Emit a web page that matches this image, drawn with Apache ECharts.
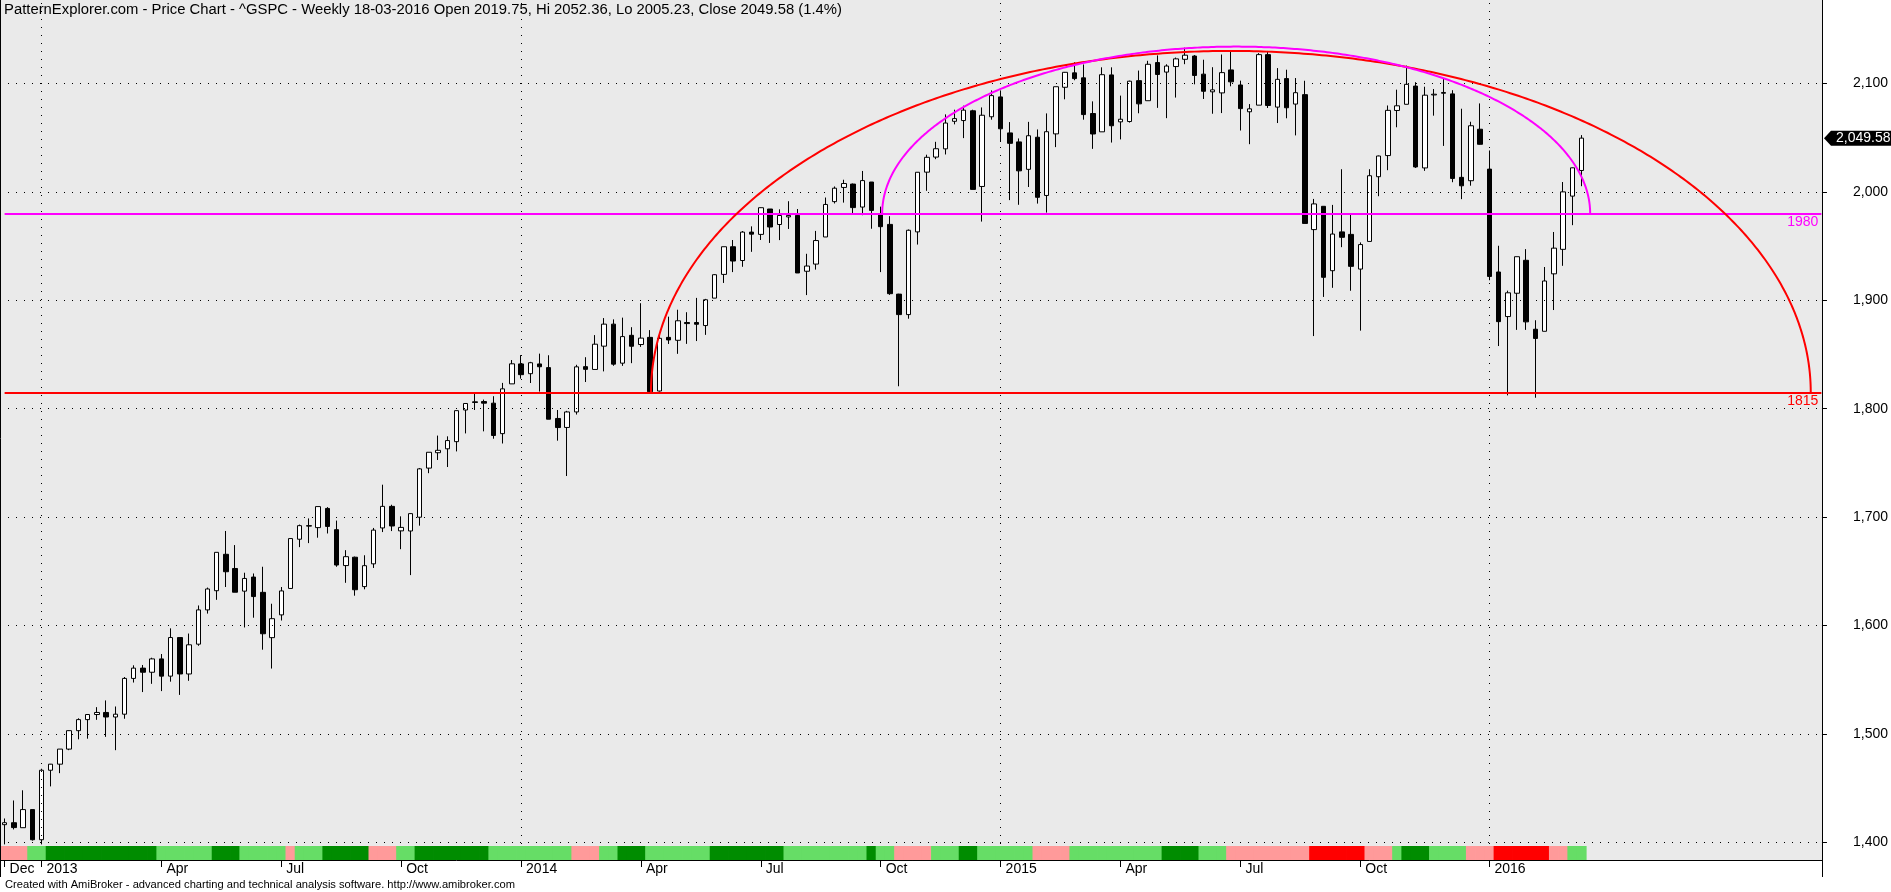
<!DOCTYPE html>
<html><head><meta charset="utf-8">
<script src="https://cdn.jsdelivr.net/npm/echarts@6/dist/echarts.min.js"></script>
<style>html,body{margin:0;padding:0;background:#fff;overflow:hidden}#c{width:1891px;height:892px}</style>
</head><body><div id="c"></div>
<script>
// ---------------- DATA ----------------
const weeks = [
'2012-12-07','2012-12-14','2012-12-21','2012-12-28',
'2013-01-04','2013-01-11','2013-01-18','2013-01-25','2013-02-01','2013-02-08','2013-02-15','2013-02-22','2013-03-01','2013-03-08','2013-03-15','2013-03-22','2013-03-28',
'2013-04-05','2013-04-12','2013-04-19','2013-04-26','2013-05-03','2013-05-10','2013-05-17','2013-05-24','2013-05-31','2013-06-07','2013-06-14','2013-06-21','2013-06-28',
'2013-07-05','2013-07-12','2013-07-19','2013-07-26','2013-08-02','2013-08-09','2013-08-16','2013-08-23','2013-08-30','2013-09-06','2013-09-13','2013-09-20','2013-09-27',
'2013-10-04','2013-10-11','2013-10-18','2013-10-25','2013-11-01','2013-11-08','2013-11-15','2013-11-22','2013-11-29','2013-12-06','2013-12-13','2013-12-20','2013-12-27',
'2014-01-03','2014-01-10','2014-01-17','2014-01-24','2014-01-31','2014-02-07','2014-02-14','2014-02-21','2014-02-28','2014-03-07','2014-03-14','2014-03-21','2014-03-28',
'2014-04-04','2014-04-11','2014-04-17','2014-04-25','2014-05-02','2014-05-09','2014-05-16','2014-05-23','2014-05-30','2014-06-06','2014-06-13','2014-06-20','2014-06-27',
'2014-07-03','2014-07-11','2014-07-18','2014-07-25','2014-08-01','2014-08-08','2014-08-15','2014-08-22','2014-08-29','2014-09-05','2014-09-12','2014-09-19','2014-09-26',
'2014-10-03','2014-10-10','2014-10-17','2014-10-24','2014-10-31','2014-11-07','2014-11-14','2014-11-21','2014-11-28','2014-12-05','2014-12-12','2014-12-19','2014-12-26',
'2015-01-02','2015-01-09','2015-01-16','2015-01-23','2015-01-30','2015-02-06','2015-02-13','2015-02-20','2015-02-27','2015-03-06','2015-03-13','2015-03-20','2015-03-27',
'2015-04-02','2015-04-10','2015-04-17','2015-04-24','2015-05-01','2015-05-08','2015-05-15','2015-05-22','2015-05-29','2015-06-05','2015-06-12','2015-06-19','2015-06-26',
'2015-07-02','2015-07-10','2015-07-17','2015-07-24','2015-07-31','2015-08-07','2015-08-14','2015-08-21','2015-08-28','2015-09-04','2015-09-11','2015-09-18','2015-09-25',
'2015-10-02','2015-10-09','2015-10-16','2015-10-23','2015-10-30','2015-11-06','2015-11-13','2015-11-20','2015-11-27','2015-12-04','2015-12-11','2015-12-18','2015-12-24','2015-12-31',
'2016-01-08','2016-01-15','2016-01-22','2016-01-29','2016-02-05','2016-02-12','2016-02-19','2016-02-26','2016-03-04','2016-03-11','2016-03-18'
];
const open = [
1416.3,1418.1,1413.5,1430.2,
1402.4,1466.5,1472.1,1486.0,1503.0,1513.2,1517.9,1519.8,1515.6,1518.2,1551.2,1560.7,1556.9,
1569.2,1553.3,1588.9,1555.3,1582.8,1614.4,1632.1,1665.7,1652.6,1631.7,1644.7,1630.6,1588.8,
1609.8,1634.2,1679.6,1692.1,1690.3,1708.0,1688.4,1655.3,1663.0,1635.9,1656.9,1690.0,1709.9,
1687.3,1687.2,1699.9,1745.2,1759.4,1763.0,1769.6,1798.8,1806.3,1806.6,1805.1,1777.0,1822.9,
1841.3,1832.3,1841.3,1837.9,1791.0,1782.7,1797.0,1838.8,1836.2,1857.7,1878.0,1842.0,1867.7,
1859.2,1865.8,1816.3,1865.8,1863.1,1879.5,1879.5,1876.7,1902.0,1923.9,1949.4,1936.7,1962.9,
1960.8,1984.2,1969.9,1976.9,1978.3,1926.8,1933.4,1958.4,1991.0,2004.1,2007.2,1986.0,2009.1,
1978.9,1970.0,1905.7,1886.8,1963.1,2018.2,2032.1,2039.7,2065.1,2065.8,2074.8,2005.0,2069.3,
2087.6,2054.4,2046.1,2020.8,2050.4,1996.7,2053.5,2096.5,2109.8,2105.2,2072.3,2055.4,2107.9,
2064.6,2064.9,2102.6,2084.1,2119.3,2110.5,2115.6,2122.3,2125.3,2108.6,2092.3,2091.3,2112.5,
2098.6,2073.9,2080.0,2126.6,2078.2,2104.5,2081.0,2089.7,1965.2,1986.7,1927.3,1963.1,1960.8,
1928.8,1954.3,2014.0,2033.5,2075.1,2080.8,2097.6,2022.1,2089.4,2090.95,2090.4,2013.4,2010.3,2057.8,
2021.0,1926.1,1885.0,1906.5,1936.9,1873.3,1871.4,1924.4,1947.0,1996.1,2019.75
];
const high = [
1422.0,1438.6,1448.0,1430.2,
1467.9,1472.3,1486.0,1503.3,1514.4,1518.3,1524.7,1530.9,1525.3,1552.5,1563.3,1563.6,1570.3,
1573.7,1597.4,1588.9,1592.6,1618.5,1635.0,1667.5,1687.2,1674.2,1648.7,1648.0,1654.2,1620.1,
1635.5,1680.2,1693.1,1698.8,1709.7,1709.2,1696.8,1669.5,1663.6,1664.8,1690.0,1729.9,1711.4,
1700.7,1703.4,1745.3,1759.8,1775.2,1774.5,1798.2,1804.8,1813.6,1808.4,1811.5,1823.8,1844.9,
1849.4,1843.2,1850.8,1849.3,1798.8,1798.0,1840.5,1847.5,1867.9,1883.6,1882.4,1884.0,1875.2,
1897.3,1872.5,1869.6,1884.9,1891.3,1889.0,1902.2,1901.3,1924.0,1949.4,1955.6,1963.9,1968.2,
1985.6,1984.2,1983.9,1991.4,1984.2,1942.9,1964.0,1994.8,2005.0,2011.2,2007.7,2019.3,2009.1,
1986.4,1977.6,1906.0,1965.3,2018.2,2034.3,2046.2,2071.5,2075.8,2079.5,2075.8,2077.9,2093.6,
2093.6,2064.4,2049.3,2064.6,2057.6,2072.4,2097.0,2110.6,2119.6,2117.5,2083.5,2114.9,2114.9,
2088.8,2102.6,2111.9,2120.9,2125.9,2117.7,2123.9,2133.0,2126.2,2121.9,2115.0,2126.7,2129.9,
2102.6,2081.0,2128.0,2130.0,2114.2,2112.7,2105.0,2102.5,1993.5,1986.7,1988.0,2020.9,1979.6,
1953.4,2020.9,2033.5,2079.7,2094.3,2116.5,2101.2,2097.0,2094.9,2104.3,2093.8,2076.7,2064.7,2081.6,
2038.2,1950.3,1908.9,1940.2,1947.2,1881.6,1930.7,1963.0,2009.1,2022.4,2052.36
];
const low = [
1398.1,1411.9,1413.5,1401.6,
1398.1,1451.6,1463.8,1485.0,1495.0,1495.6,1513.0,1497.3,1485.0,1514.0,1547.4,1538.6,1546.2,
1539.5,1548.2,1536.0,1549.0,1581.3,1611.0,1623.7,1635.5,1630.7,1598.2,1607.2,1577.7,1560.3,
1604.6,1634.2,1672.3,1676.0,1681.0,1684.9,1654.2,1639.4,1627.5,1633.4,1653.1,1686.2,1687.1,
1670.4,1646.5,1692.1,1740.5,1752.7,1746.2,1760.6,1777.2,1798.8,1779.1,1772.3,1767.9,1822.9,
1827.7,1823.7,1815.8,1790.3,1770.5,1737.9,1794.6,1824.6,1836.2,1834.4,1839.6,1839.5,1842.0,
1857.0,1814.4,1815.8,1859.7,1850.6,1859.8,1862.4,1868.1,1902.0,1916.0,1926.0,1930.9,1944.7,
1955.6,1952.9,1955.5,1965.8,1925.2,1904.8,1928.3,1958.4,1989.3,1990.1,1980.3,1978.5,1966.0,
1926.0,1905.0,1820.7,1883.0,1951.4,2001.0,2030.2,2034.5,2062.3,2049.6,2002.3,1972.6,2066.6,
2046.0,1992.4,1988.1,2004.5,1989.2,1980.9,2041.3,2085.4,2103.0,2066.6,2039.7,2055.4,2045.5,
2048.4,2063.9,2072.5,2084.1,2077.5,2068.0,2087.0,2117.8,2099.2,2085.7,2072.1,2072.7,2097.4,
2056.6,2044.0,2080.0,2077.4,2063.5,2067.9,2052.1,1970.9,1867.0,1903.1,1911.5,1949.0,1908.8,
1872.0,1954.3,1996.0,2020.0,2059.6,2080.8,2022.1,2019.4,2070.3,2042.4,2008.9,1993.3,2005.7,2043.6,
1918.5,1857.8,1812.3,1872.7,1872.7,1810.1,1871.4,1891.0,1931.8,1969.3,2005.23
];
const close = [
1418.1,1413.6,1430.2,1402.4,
1466.5,1472.1,1486.0,1503.0,1513.2,1517.9,1519.8,1515.6,1518.2,1551.2,1560.7,1556.9,1569.2,
1553.3,1588.9,1555.3,1582.2,1614.4,1633.7,1667.5,1649.6,1630.7,1643.4,1626.7,1592.4,1606.3,
1631.9,1680.2,1692.1,1691.7,1709.7,1691.4,1655.8,1663.5,1633.0,1655.2,1688.0,1709.9,1691.8,
1690.5,1703.2,1744.5,1759.8,1761.6,1770.6,1798.2,1804.8,1805.8,1805.1,1775.3,1818.3,1841.4,
1831.4,1842.4,1838.7,1790.3,1782.6,1797.0,1838.6,1836.3,1859.5,1878.0,1841.1,1866.5,1857.6,
1865.1,1815.7,1864.9,1863.4,1881.1,1878.5,1877.9,1900.5,1923.6,1949.4,1936.2,1962.9,1961.0,
1985.4,1967.6,1978.2,1978.3,1925.2,1931.6,1955.1,1988.4,2003.4,2007.7,1985.5,2010.4,1982.9,
1967.9,1906.1,1886.8,1964.6,2018.1,2031.9,2039.8,2063.5,2067.6,2075.4,2002.3,2070.7,2088.8,
2058.2,2044.8,2019.4,2051.8,1995.0,2055.5,2097.0,2110.3,2104.5,2071.3,2053.4,2108.1,2061.0,
2067.0,2102.1,2081.2,2117.7,2108.3,2116.1,2122.7,2126.1,2107.4,2092.8,2094.1,2110.0,2101.5,
2076.8,2076.6,2126.6,2079.7,2103.8,2077.6,2091.5,1970.9,1988.9,1921.2,1961.1,1958.1,1931.3,
1951.4,2014.9,2033.1,2075.2,2079.4,2099.2,2023.0,2089.2,2090.1,2091.7,2012.4,2005.6,2061.0,2043.9,
1922.0,1880.3,1906.9,1940.2,1880.1,1864.8,1917.8,1948.1,2000.0,2022.2,2049.58
];
// trend ribbon state per week: P = pink, L = light green, D = dark green, R = red
const ribbonCodes = ('PPP'+'LL'+'DDDDDDDDDDDD'+'LLLLLL'+'DDD'+'LLLLL'+'P'+'LLL'+'DDDDD'+'PPP'+'LL'+'DDDDDDDD'+
  'LLLLLLLLL'+'PPP'+'LL'+'DDD'+'LLLLLLL'+'DDDDDDDD'+'LLLLLLLLL'+'D'+'LL'+'PPPP'+'LLL'+'DD'+'LLLLLL'+'PPPP'+
  'LLLLLLLLLL'+'DDDD'+'LLL'+'PPPPPPPPP'+'RRRRRR'+'PPP'+'L'+'DDD'+'LLLL'+'PPP'+'RRRRRR'+'PP'+'LL').split('');
const priceTicks = [1400,1500,1600,1700,1800,1900,2000,2100];
const monthTickIdx = [0,4,17,30,43,56,69,82,95,108,121,134,147,161];
const monthTickLabels = ['Dec','2013','Apr','Jul','Oct','2014','Apr','Jul','Oct','2015','Apr','Jul','Oct','2016'];
const yearLineIdx = [4,56,108,161];
const levelValues = [1815, 1980];
// hand-drawn half-ellipse arcs: start index, end index, base price, top price
const arcStartIdx = [70.09, 95.16];
const arcEndIdx = [195.85, 171.93];
const arcBase = [1815, 1980];
const arcTop = [2130, 2134];
const lastClose = 2049.58;
const titleText = 'PatternExplorer.com - Price Chart - ^GSPC - Weekly 18-03-2016 Open 2019.75, Hi 2052.36, Lo 2005.23, Close 2049.58 (1.4%)';
const footerText = 'Created with AmiBroker - advanced charting and technical analysis software. http://www.amibroker.com';

// ---------------- BUILD ----------------
const FUTURE = 26;
const cats = weeks.slice();
for (let i = 0; i < FUTURE; i++) cats.push('f' + i);
const ohlc = weeks.map((w, i) => [open[i], close[i], low[i], high[i]]);
const ribbonColor = {P: '#ff9a9a', L: '#66dd66', D: '#008c00', R: '#ff0000'};
const ribbonData = ribbonCodes.map(c => ({value: 1, itemStyle: {color: ribbonColor[c], borderWidth: 0}}));
const tickSet = new Set(monthTickIdx);
const tickLabel = {};
monthTickIdx.forEach((k, j) => tickLabel[k] = monthTickLabels[j]);
const FONT = '"Liberation Sans", Arial, sans-serif';
const arcColors = ['#ff0000', '#ff00ff'];
const levelColors = ['#ff0000', '#ff00ff'];

// fit text width to the reference layout
function fitScale(text, font, targetW) {
  const ctx = document.createElement('canvas').getContext('2d');
  ctx.font = font;
  return targetW / ctx.measureText(text).width;
}
const titleFont = '14px ' + FONT;
const titleScale = fitScale(titleText, titleFont, 838);
const footFont = '11px ' + FONT;
const footScale = fitScale(footerText, footFont, 510);

const chart = echarts.init(document.getElementById('c'), null, {renderer: 'canvas'});

const gridMarks = priceTicks.map(v => ({yAxis: v}));
const yearMarks = yearLineIdx.map(k => ({xAxis: weeks[k]}));

const option = {
  animation: false,
  backgroundColor: '#ffffff',
  textStyle: {fontFamily: FONT},
  grid: [
    {left: -1, top: 0, width: 1827, height: 860, show: true, backgroundColor: '#eaeaea', borderWidth: 0},
    {left: -1, top: 846, width: 1827, height: 14, show: false}
  ],
  xAxis: [
    {type: 'category', gridIndex: 0, data: cats, boundaryGap: true,
     axisLine: {show: false}, axisTick: {show: false}, axisLabel: {show: false}, splitLine: {show: false}},
    {type: 'category', gridIndex: 1, data: cats, boundaryGap: true, z: 10,
     axisLine: {show: true, lineStyle: {color: '#000', width: 1}},
     axisTick: {show: true, alignWithLabel: true, length: 7, interval: (i) => tickSet.has(i), lineStyle: {color: '#000'}},
     axisLabel: {show: true, interval: (i) => tickSet.has(i), formatter: (v, i) => tickLabel[i] || '',
       align: 'left', padding: [0, 0, 0, 5], margin: 2, fontSize: 14, color: '#000', fontFamily: FONT},
     splitLine: {show: false}}
  ],
  yAxis: [
    {type: 'value', gridIndex: 0, position: 'right', offset: -4, min: 1383.7, max: 2177.0, z: 50,
     axisLine: {show: true, lineStyle: {color: '#000', width: 1}},
     axisTick: {show: true, customValues: priceTicks, length: 5, lineStyle: {color: '#000'}},
     axisLabel: {show: true, customValues: priceTicks, margin: 31, fontSize: 14, color: '#000', fontFamily: FONT,
       formatter: (v) => Number(v).toLocaleString('en-US')},
     splitLine: {show: false}},
    {type: 'value', gridIndex: 1, min: 0, max: 1, show: false}
  ],
  series: [
    {
      type: 'candlestick', xAxisIndex: 0, yAxisIndex: 0, data: ohlc, barWidth: 5,
      itemStyle: {color: '#ffffff', color0: '#000000', borderColor: '#000000', borderColor0: '#000000', borderWidth: 1},
      markLine: {
        silent: true, symbol: ['none', 'none'], animation: false,
        label: {show: false},
        lineStyle: {color: '#000', type: [1, 7], width: 1},
        data: gridMarks.concat(yearMarks)
      },
      z: 3
    },
    {
      type: 'line', xAxisIndex: 0, yAxisIndex: 0, data: [], silent: true,
      markLine: {
        silent: true, symbol: ['none', 'none'], animation: false,
        data: levelValues.map((v, j) => [
          {coord: [0, v], lineStyle: {color: levelColors[j], width: 2, type: 'solid'},
           label: {show: true, formatter: String(v), position: 'insideEndBottom', color: levelColors[j], fontSize: 14, fontFamily: FONT, distance: [3, 2]}},
          {coord: [cats.length - 1, v]}
        ])
      },
      z: 4
    },
    {
      type: 'custom', xAxisIndex: 0, yAxisIndex: 0, clip: false, silent: true,
      data: arcStartIdx.map((s, j) => [j, arcBase[j]]),
      encode: {x: -1, y: -1},
      renderItem: function (params, api) {
        const j = params.dataIndex;
        const p0 = api.coord([0, arcBase[j]]);
        const p1 = api.coord([1, arcBase[j]]);
        const step = p1[0] - p0[0];
        const xs = p0[0] + arcStartIdx[j] * step;
        const xe = p0[0] + arcEndIdx[j] * step;
        const yb = p0[1];
        const yt = api.coord([0, arcTop[j]])[1];
        const cx = (xs + xe) / 2, rx = (xe - xs) / 2, ry = yb - yt;
        const pts = [];
        for (let k = 0; k <= 400; k++) {
          const t = Math.PI * k / 400;
          pts.push([cx - rx * Math.cos(t), yb - ry * Math.sin(t)]);
        }
        return {type: 'polyline', shape: {points: pts}, style: {stroke: arcColors[j], lineWidth: 2, fill: null}, z2: 10};
      },
      z: 5
    },
    {
      type: 'bar', xAxisIndex: 1, yAxisIndex: 1, data: ribbonData, barWidth: 10, barGap: '-100%',
      silent: true, z: 6
    }
  ],
  graphic: []
};
chart.setOption(option);

// overlays positioned through the library's scale
const py = chart.convertToPixel({yAxisIndex: 0}, lastClose);
chart.setOption({
  graphic: [
    {type: 'rect', z: 40, shape: {x: 1822.5, y: 0, width: 70, height: 861}, style: {fill: '#ffffff'}, silent: true},
    {type: 'line', z: 45, shape: {x1: 0.5, y1: 0, x2: 0.5, y2: 877}, style: {stroke: '#000', lineWidth: 1}, silent: true},
    {type: 'line', z: 45, shape: {x1: 1822.5, y1: 0, x2: 1822.5, y2: 877}, style: {stroke: '#000', lineWidth: 1}, silent: true},
    {type: 'text', z: 45, x: 4, y: 10, scaleX: titleScale, style: {text: titleText, fill: '#000', font: titleFont, verticalAlign: 'middle'}, silent: true},
    {type: 'text', z: 45, x: 5, y: 885, scaleX: footScale, style: {text: footerText, fill: '#000', font: footFont, verticalAlign: 'middle'}, silent: true},
    {type: 'polygon', z: 60, shape: {points: [[1824, py], [1831, py - 7.5], [1891, py - 7.5], [1891, py + 7.5], [1831, py + 7.5]]}, style: {fill: '#000'}, silent: true},
    {type: 'text', z: 61, x: 1836, y: py, style: {text: lastClose.toLocaleString('en-US', {minimumFractionDigits: 2}), fill: '#fff', font: '14px ' + FONT, verticalAlign: 'middle'}, silent: true}
  ]
});
</script>
</body></html>
